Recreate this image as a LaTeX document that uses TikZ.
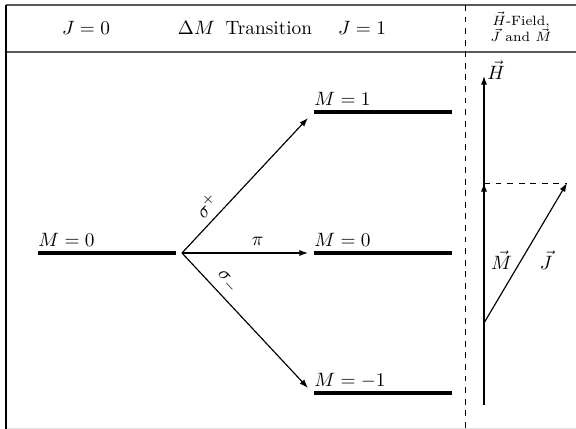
\documentclass[tikz,border=0pt]{standalone}
\usetikzlibrary{arrows.meta}
\begin{document}
\begin{tikzpicture}[x=0.518pt,y=-0.518pt,
  level/.style={line width=1.6pt},
  trans/.style={-{Latex[length=4.5pt,width=3.2pt]}, semithick},
  vec/.style={-{Latex[length=4.5pt,width=3.2pt]}, semithick},
  frame/.style={line width=1pt, black!65},
  lbl/.style={anchor=base west, inner sep=0pt}]

  \useasboundingbox (0,0) rectangle (576,429);

  % ---- table frame ----
  \draw[frame] (6,5) -- (576,5);
  \draw[frame] (6,52) -- (576,52);
  \draw[black!12] (6,428) -- (576,428);
  \draw[line width=0.9pt] (6,5) -- (6,429);
  \draw[dashed] (465,5) -- (465,429);

  % ---- header ----
  \node (hj0) at (86,28) {$J=0$};
  \node (hdm) at (245,28) {$\Delta M$\hspace{5.5pt}Transition};
  \node (hj1) at (362,28) {$J=1$};
  \node[font=\scriptsize, align=center, inner sep=0pt] (hfld) at (521,27)
    {$\vec H$-Field,\\[-0.5pt] $\vec J$ and $\vec M$};

  % ---- energy levels ----
  \draw[level] (38,253) coordinate (g0w) -- (176,253) coordinate (g0e);
  \node[lbl] (lg0) at (38,247) {$M=0$};
  \draw[level] (314,112) coordinate (e1w) -- (452,112) coordinate (e1e);
  \node[lbl] (le1) at (314,106) {$M=1$};
  \draw[level] (314,253) coordinate (e0w) -- (452,253) coordinate (e0e);
  \node[lbl] (le0) at (314,247) {$M=0$};
  \draw[level] (314,393) coordinate (emw) -- (452,393) coordinate (eme);
  \node[lbl] (lem) at (314,387) {$M=-1$};

  % ---- transitions ----
  \coordinate (src) at (182,253);
  \draw[trans] (src) -- ([shift={(-6,6)}]e1w)
    node[pos=0.28, sloped, above] {$\sigma^+$};
  \draw[trans] (src) -- ([shift={(-6,0)}]e0w)
    node[pos=0.6, above] {$\pi$};
  \draw[trans] (src) -- ([shift={(-6,-5)}]emw)
    node[pos=0.28, sloped, above] {$\sigma_-$};

  % ---- field, J and M ----
  \coordinate (hb) at (484,405);
  \coordinate (ht) at (484,76);
  \coordinate (mb) at (484,323);
  \coordinate (mt) at (484,183);
  \coordinate (jt) at (567,183);
  \draw[vec] (hb) -- (ht) node[anchor=west, inner sep=1.5pt, yshift=3pt] {$\vec H$};
  \draw[vec] (mb) -- (mt) node[pos=0.45, right] {$\vec M$};
  \draw[vec] (mb) -- (jt) node[pos=0.45, right=6pt] {$\vec J$};
  \draw[dashed] (mt) -- (jt);

\end{tikzpicture}
\end{document}
